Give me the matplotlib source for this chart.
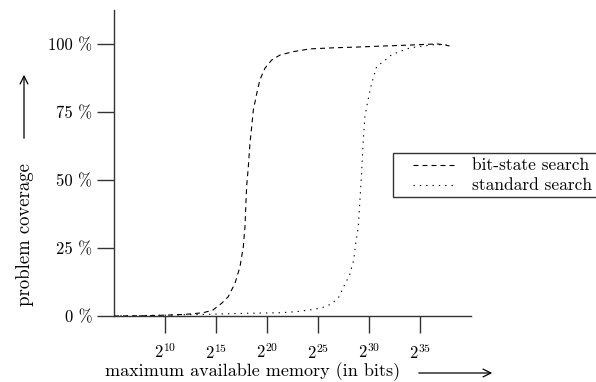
"""
Problem coverage vs. available memory: bit-state search vs. standard search.
"""
import matplotlib
matplotlib.use("Agg")
import matplotlib.pyplot as plt
from matplotlib.lines import Line2D
from matplotlib.patches import Rectangle

plt.rcParams["font.family"] = ["cmr10", "DejaVu Serif"]
plt.rcParams["mathtext.fontset"] = "cm"
plt.rcParams["axes.unicode_minus"] = False

# memory as log2(bits), coverage in percent
bit_x = [5, 8, 10, 12, 13.75, 14.7, 15.56, 16.2, 16.86, 17.35, 17.68, 17.84, 18.0,
         18.17, 18.33, 18.5, 18.66, 19.0, 19.3, 19.8, 20.46, 21.3, 22.6, 24.2,
         26.5, 29, 31.7, 34, 35.7, 36.8, 37.9]
bit_y = [0, 0.1, 0.3, 0.6, 1.2, 2.2, 4.7, 7.1, 12, 18.1, 25.5, 32.8, 47.5,
         54.9, 63.6, 69.6, 75.7, 81.9, 86.8, 91.1, 94.1, 96, 97.2, 98.2,
         98.6, 98.9, 99.3, 99.6, 99.9, 100, 99.3]

std_x = [5, 10, 15, 18, 21.3, 22.9, 24.7, 25.5, 26.3, 27.0, 27.6, 28.1, 28.5,
         28.7, 28.95, 29.1, 29.28, 29.44, 29.6, 29.9, 30.26, 30.75, 31.6, 32.2,
         33.0, 33.9, 34.7, 36.5, 37.9]
std_y = [0, 0.3, 0.7, 1.0, 1.2, 1.6, 2.5, 3.2, 4.4, 6.7, 11.4, 15.1, 20.6,
         26.7, 32.8, 42, 53, 64.7, 73.3, 79.4, 85.5, 91.7, 94.1, 96,
         97.2, 98.4, 99, 99.8, 99.6]

x_ticks = [10, 15, 20, 25, 30, 35]
x_labels = [rf"$2^{{{t}}}$" for t in x_ticks]
y_ticks = [0, 25, 50, 75, 100]
y_labels = [f"{t} %" for t in y_ticks]

FS = 12
AXIS_GREY = "#333333"

fig = plt.figure(figsize=(5.96, 3.82), dpi=100)
ax = fig.add_axes((114 / 596, 66 / 382, 357 / 596, 306 / 382))

STYLES = {"bit-state search": (4.5, 3.6), "standard search": (1.2, 4.5)}

ax.plot(bit_x, bit_y, color="black", lw=0.8, dashes=STYLES["bit-state search"])
ax.plot(std_x, std_y, color="black", lw=0.8, dashes=STYLES["standard search"])

ax.set_xlim(5, 40)
ax.set_ylim(0, 112.5)
for side in ("top", "right"):
    ax.spines[side].set_visible(False)
for side in ("left", "bottom"):
    ax.spines[side].set_color(AXIS_GREY)
    ax.spines[side].set_linewidth(1.0)

ax.set_xticks(x_ticks)
ax.set_xticklabels(x_labels, fontsize=FS)
ax.set_yticks(y_ticks)
ax.set_yticklabels(y_labels, fontsize=FS)
ax.tick_params(axis="x", direction="out", length=12, width=1.0, color=AXIS_GREY, pad=7)
ax.tick_params(axis="y", direction="out", length=12, width=1.0, color=AXIS_GREY, pad=3.5)

# gnuplot-style key box, partly running off the right edge
W, H = 596, 382
fig.add_artist(Rectangle((393 / W, 1 - 197 / H), 220 / W, 44 / H,
                         transform=fig.transFigure, fill=False,
                         edgecolor=AXIS_GREY, lw=1.0, clip_on=False))
for i, (name, dash) in enumerate(STYLES.items()):
    yy = 1 - (165 + 20 * i) / H
    fig.add_artist(Line2D([413 / W, 455 / W], [yy, yy], transform=fig.transFigure,
                          color="black", lw=0.8, dashes=dash))
    fig.text(472 / W, yy, name, ha="left", va="center", fontsize=12.5)

# axis labels with arrows
fig.text(25 / W, 1 - 306 / H, "problem coverage", rotation=90,
         ha="center", va="bottom", fontsize=13.5)
ax.annotate("", xy=(24 / W, 1 - 72 / H), xytext=(24 / W, 1 - 141 / H),
            xycoords="figure fraction", textcoords="figure fraction",
            arrowprops=dict(arrowstyle="->", lw=0.9, color="black", mutation_scale=14))

fig.text(105 / W, 1 - 372 / H, "maximum available memory (in bits)",
         ha="left", va="center", fontsize=13)
ax.annotate("", xy=(495 / W, 1 - 373 / H), xytext=(416 / W, 1 - 373 / H),
            xycoords="figure fraction", textcoords="figure fraction",
            arrowprops=dict(arrowstyle="->", lw=0.9, color="black", mutation_scale=14))

fig.savefig("out.png", dpi=100)
